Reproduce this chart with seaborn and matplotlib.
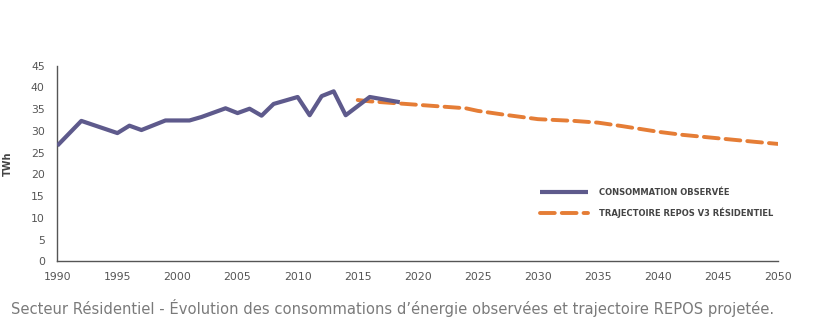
import matplotlib
matplotlib.use("Agg")
import matplotlib.pyplot as plt
import seaborn as sns
import pandas as pd

# Observed consumption (TWh)
obs_years = [1990, 1992, 1995, 1996, 1997, 1999, 2001, 2002, 2004, 2005, 2006,
             2007, 2008, 2010, 2011, 2012, 2013, 2014, 2016, 2018.5]
obs_values = [26.6, 32.3, 29.5, 31.2, 30.2, 32.4, 32.4, 33.2, 35.2, 34.1, 35.1,
              33.5, 36.2, 37.8, 33.6, 38.0, 39.1, 33.6, 37.8, 36.6]

# REPOS V3 projected trajectory (TWh)
proj_years = [2015, 2016, 2018, 2020, 2022, 2024, 2025, 2027, 2030, 2033, 2035,
              2037, 2040, 2042, 2045, 2048, 2050]
proj_values = [37.1, 36.8, 36.4, 36.0, 35.6, 35.2, 34.6, 33.8, 32.7, 32.3, 31.9,
               31.1, 29.8, 29.1, 28.3, 27.5, 27.0]

x_ticks = list(range(1990, 2051, 5))
y_ticks = list(range(0, 46, 5))

label_obs = "CONSOMMATION OBSERVÉE"
label_proj = "TRAJECTOIRE REPOS V3 RÉSIDENTIEL"
y_label = "TWh"
caption = ("Secteur Résidentiel - Évolution des consommations d\u2019énergie "
           "observées et trajectoire REPOS projetée.")

sns.set_style("white")
plt.rcParams["font.family"] = ["DejaVu Sans"]

fig = plt.figure(figsize=(8.27, 3.30), dpi=100)
ax = fig.add_axes([0.0693, 0.208, 0.8718, 0.593])

df_obs = pd.DataFrame({"year": obs_years, "value": obs_values})
df_proj = pd.DataFrame({"year": proj_years, "value": proj_values})

sns.lineplot(data=df_obs, x="year", y="value", ax=ax, color="#5e5a8c",
             linewidth=3.0, label=label_obs, zorder=3, solid_capstyle="butt")
sns.lineplot(data=df_proj, x="year", y="value", ax=ax, color="#e57d36",
             linewidth=2.8, label=label_proj, zorder=2,
             dashes=False)
ax.lines[-1].set_dashes([3.8, 1.8])
ax.lines[-1].set_dash_capstyle("round")

ax.set_xlim(1990, 2050)
ax.set_ylim(0, 45)
ax.set_xticks(x_ticks)
ax.set_yticks(y_ticks)
ax.set_xlabel("")
ax.set_ylabel(y_label, fontsize=7, fontweight="bold", color="#444444",
              labelpad=13)

for s in ["top", "right"]:
    ax.spines[s].set_visible(False)
for s in ["left", "bottom"]:
    ax.spines[s].set_color("#555555")
    ax.spines[s].set_linewidth(1.0)

ax.tick_params(axis="both", colors="#555555", labelsize=7.8, length=5,
               width=1.0, direction="out", labelcolor="#555555")
ax.tick_params(axis="x", pad=3)
ax.tick_params(axis="y", pad=4)

leg = ax.legend(loc="upper left", bbox_to_anchor=(0.665, 0.394), frameon=False,
                prop={"family": "DejaVu Sans", "weight": "bold", "size": 6.0},
                handlelength=5.8, handletextpad=1.3,
                labelspacing=1.35, borderaxespad=0)
for t in leg.get_texts():
    t.set_color("#444444")
hs = leg.legend_handles
hs[1].set_dashes([3.8, 1.8])

fig.text(0.013, 0.068, caption, fontsize=10.6, color="#7a7a7a", ha="left",
         va="center")

fig.savefig("out.png", dpi=100, facecolor="white")
